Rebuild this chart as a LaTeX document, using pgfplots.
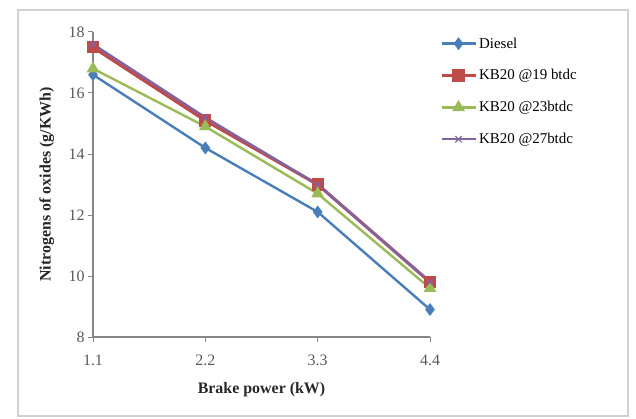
\documentclass[border=0pt]{standalone}
\usepackage{pgfplots}
\pgfplotsset{compat=1.18}
\usepackage{fontspec}
\setmainfont{Liberation Serif}
\definecolor{cdiesel}{RGB}{74,126,187}
\definecolor{cnineteen}{RGB}{190,75,72}
\definecolor{ctwentythree}{RGB}{155,187,89}
\definecolor{ctwentyseven}{RGB}{128,100,162}
\definecolor{axgray}{RGB}{134,134,134}
\begin{document}
\begin{tikzpicture}[x=1bp,y=1bp]
\path (0,0) rectangle (636,418);
\draw[black!18, line width=1.5bp] (18,2) rectangle (628,408);
\begin{axis}[
  at={(93bp,81bp)}, anchor=south west,
  width=337bp, height=305bp, scale only axis,
  xmin=1.1, xmax=4.4, ymin=8, ymax=18,
  axis x line*=bottom, axis y line*=left,
  axis line style={-, axgray, line width=1.2bp},
  xtick={1.1,2.2,3.3,4.4}, xticklabels={1.1,2.2,3.3,4.4},
  ytick={8,10,12,14,16,18},
  tick align=outside, major tick length=5bp,
  tick style={axgray, line width=1bp},
  /pgf/number format/assume math mode=true,
  ticklabel style={font=\fontsize{16}{16}\selectfont, text=black!65},
  xticklabel style={yshift=-9bp},
  xlabel={\textbf{Brake power (kW)}},
  ylabel={\textbf{Nitrogens of oxides (g/KWh)}},
  label style={font=\fontsize{16}{16}\selectfont, text=black!85},
  xlabel style={at={(axis description cs:0.5,-0.172)}, anchor=center},
  ylabel style={at={(axis description cs:-0.137,0.5)}, anchor=center},
  legend style={at={(1.02,0.995)}, anchor=north west, draw=none, fill=none,
    font=\fontsize{15}{15}\selectfont, row sep=16bp},
  legend cell align=left,
  legend image code/.code={\draw[#1, mark repeat=2, mark phase=2] plot coordinates {(0bp,0bp) (17bp,0bp) (34bp,0bp)};},
  every axis plot/.append style={line width=2.4bp},
]
\addplot[cdiesel, mark=diamond*, mark size=4.5bp] coordinates {(1.1,16.6) (2.2,14.2) (3.3,12.1) (4.4,8.9)};
\addplot[cnineteen, mark=square*, mark size=4.5bp, line width=3.2bp] coordinates {(1.1,17.5) (2.2,15.1) (3.3,13.0) (4.4,9.8)};
\addplot[ctwentythree, mark=triangle*, mark size=5bp] coordinates {(1.1,16.8) (2.2,14.9) (3.3,12.7) (4.4,9.6)};
\addplot[ctwentyseven, mark=x, mark size=4.5bp, mark options={solid, line width=1.2bp}] coordinates {(1.1,17.6) (2.2,15.2) (3.3,13.0) (4.4,9.8)};
\addlegendentry{Diesel}
\addlegendentry{KB20 @19 btdc}
\addlegendentry{KB20 @23btdc}
\addlegendentry{KB20 @27btdc}
\end{axis}
\end{tikzpicture}
\end{document}
